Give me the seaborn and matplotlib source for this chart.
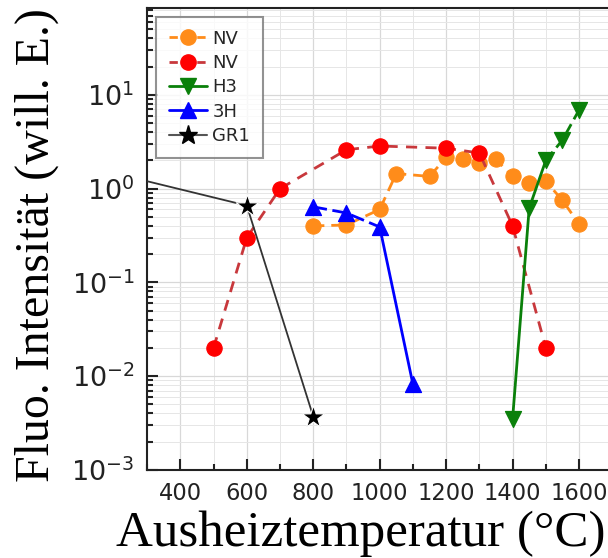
import numpy as np
import pandas as pd
import matplotlib
matplotlib.use("Agg")
import matplotlib.pyplot as plt
import seaborn as sns
from matplotlib.lines import Line2D
from matplotlib.ticker import LogLocator, MultipleLocator, NullFormatter

# ---- data ----
nv_orange_x = [800, 900, 1000, 1050, 1150, 1200, 1250, 1300, 1350, 1400, 1450, 1500, 1550, 1600]
nv_orange_y = [0.40, 0.41, 0.60, 1.45, 1.35, 2.15, 2.05, 1.90, 2.05, 1.35, 1.15, 1.20, 0.75, 0.42]

nv_red_x = [500, 600, 700, 900, 1000, 1200, 1300, 1400, 1500]
nv_red_y = [0.020, 0.30, 1.0, 2.6, 2.85, 2.7, 2.4, 0.40, 0.020]

h3_x = [1400, 1450, 1500, 1550, 1600]
h3_y = [0.0035, 0.62, 2.0, 3.3, 6.9]

h3b_x = [800, 900, 1000, 1100]
h3b_y = [0.64, 0.55, 0.39, 0.0082]

gr1_x = [300, 600, 800]
gr1_y = [1.2, 0.66, 0.0037]

labels = ["NV", "NV", "H3", "3H", "GR1"]
xticks = [400, 600, 800, 1000, 1200, 1400, 1600]

# ---- style ----
sns.set_theme(style="ticks")
plt.rcParams["font.family"] = ["DejaVu Sans"]
plt.rcParams["mathtext.fontset"] = "dejavusans"
plt.rcParams["axes.unicode_minus"] = False

c_orange = "#FF8C1A"
c_red = "#FF0000"
c_redline = "#C8383C"
c_green = "#0A800A"
c_blue = "#0000FF"
c_black = "#000000"

fig = plt.figure(figsize=(6.08, 5.58), dpi=100)
ax = fig.add_axes([0.242, 0.158, 0.765, 0.828])

ms_c = 11
ms_t = 11.5

def df(x, y):
    return pd.DataFrame({"x": x, "y": y})

# orange NV
sns.lineplot(data=df(nv_orange_x, nv_orange_y), x="x", y="y", ax=ax, color=c_orange,
             linestyle=(0, (4, 2.5)), lw=2, marker="o", markersize=ms_c,
             markerfacecolor=c_orange, markeredgecolor=c_orange, zorder=3)
# red NV
sns.lineplot(data=df(nv_red_x, nv_red_y), x="x", y="y", ax=ax, color=c_redline,
             linestyle=(0, (4, 3)), lw=2, zorder=3)
sns.scatterplot(data=df(nv_red_x, nv_red_y), x="x", y="y", ax=ax, color=c_red,
                marker="o", s=ms_c**2, edgecolor=c_red, zorder=4)
# H3 green
sns.lineplot(data=df(h3_x[:3], h3_y[:3]), x="x", y="y", ax=ax, color=c_green,
             linestyle="-", lw=2, zorder=3)
sns.lineplot(data=df(h3_x[2:], h3_y[2:]), x="x", y="y", ax=ax, color=c_green,
             linestyle=(0, (4, 2)), lw=2, zorder=3)
sns.scatterplot(data=df(h3_x, h3_y), x="x", y="y", ax=ax, color=c_green,
                marker="v", s=ms_t**2, edgecolor=c_green, zorder=4)
# 3H blue
sns.lineplot(data=df(h3b_x[:3], h3b_y[:3]), x="x", y="y", ax=ax, color=c_blue,
             linestyle=(0, (5, 2)), lw=2, zorder=3)
sns.lineplot(data=df(h3b_x[2:], h3b_y[2:]), x="x", y="y", ax=ax, color=c_blue,
             linestyle="-", lw=2, zorder=3)
sns.scatterplot(data=df(h3b_x, h3b_y), x="x", y="y", ax=ax, color=c_blue,
                marker="^", s=ms_t**2, edgecolor=c_blue, zorder=4)
# GR1 black
sns.lineplot(data=df(gr1_x, gr1_y), x="x", y="y", ax=ax, color="#333333",
             linestyle="-", lw=1.3, zorder=3)
sns.scatterplot(data=df(gr1_x[1:], gr1_y[1:]), x="x", y="y", ax=ax, color=c_black,
                marker="*", s=17**2, edgecolor="white", linewidth=0.8, zorder=4)

ax.set_yscale("log")
ax.set_xlim(300, 1700)
ax.set_ylim(1e-3, 85)

ax.set_xticks(xticks)
ax.xaxis.set_minor_locator(MultipleLocator(100))
ax.yaxis.set_major_locator(LogLocator(base=10, numticks=10))
ax.yaxis.set_minor_locator(LogLocator(base=10, subs=np.arange(2, 10), numticks=20))
ax.yaxis.set_minor_formatter(NullFormatter())

ax.grid(True, which="major", color="#D8D8D8", lw=0.9)
ax.grid(True, which="minor", color="#E6E6E6", lw=0.7)
ax.set_axisbelow(True)

ax.tick_params(which="both", direction="in", top=False, right=False,
               colors="#222222", width=1.5)
ax.tick_params(which="major", length=8)
ax.tick_params(axis="x", which="major", pad=8.5, labelsize=16.3)
ax.tick_params(axis="y", which="major", pad=9, labelsize=19.5)
ax.tick_params(which="minor", length=4.5)
for s in ax.spines.values():
    s.set_linewidth(1.5)
    s.set_color("#222222")

ax.set_xlabel("Ausheiztemperatur (°C)", fontsize=36.7, family=["Liberation Serif", "DejaVu Serif"],
              color="black")
ax.set_ylabel("Fluo. Intensität (will. E.)", fontsize=34.5, family=["Liberation Serif", "DejaVu Serif"],
              color="black")
ax.xaxis.set_label_coords(0.46, -0.088, transform=ax.transAxes)
ax.xaxis.label.set_va("top")
ax.yaxis.set_label_coords(-0.19, 0.487, transform=ax.transAxes)

handles = [
    Line2D([], [], color=c_orange, linestyle=(0, (3, 2)), lw=2, marker="o", markersize=ms_c,
           markerfacecolor=c_orange, markeredgecolor=c_orange),
    Line2D([], [], color=c_redline, linestyle=(0, (3, 2)), lw=2, marker="o", markersize=ms_c,
           markerfacecolor=c_red, markeredgecolor=c_red),
    Line2D([], [], color=c_green, lw=2, marker="v", markersize=ms_t,
           markerfacecolor=c_green, markeredgecolor=c_green),
    Line2D([], [], color=c_blue, lw=2, marker="^", markersize=ms_t,
           markerfacecolor=c_blue, markeredgecolor=c_blue),
    Line2D([], [], color="#555555", lw=1.5, marker="*", markersize=14,
           markerfacecolor=c_black, markeredgecolor=c_black),
]
leg = ax.legend(handles, labels, loc="upper left", bbox_to_anchor=(0.02, 0.98),
                fontsize=13, frameon=True, fancybox=False, edgecolor="#777777",
                handlelength=2.1, handletextpad=0.3, labelspacing=0.35,
                borderpad=0.7, borderaxespad=0.0)
leg.get_frame().set_linewidth(1.5)

fig.savefig("out.png", dpi=100)
